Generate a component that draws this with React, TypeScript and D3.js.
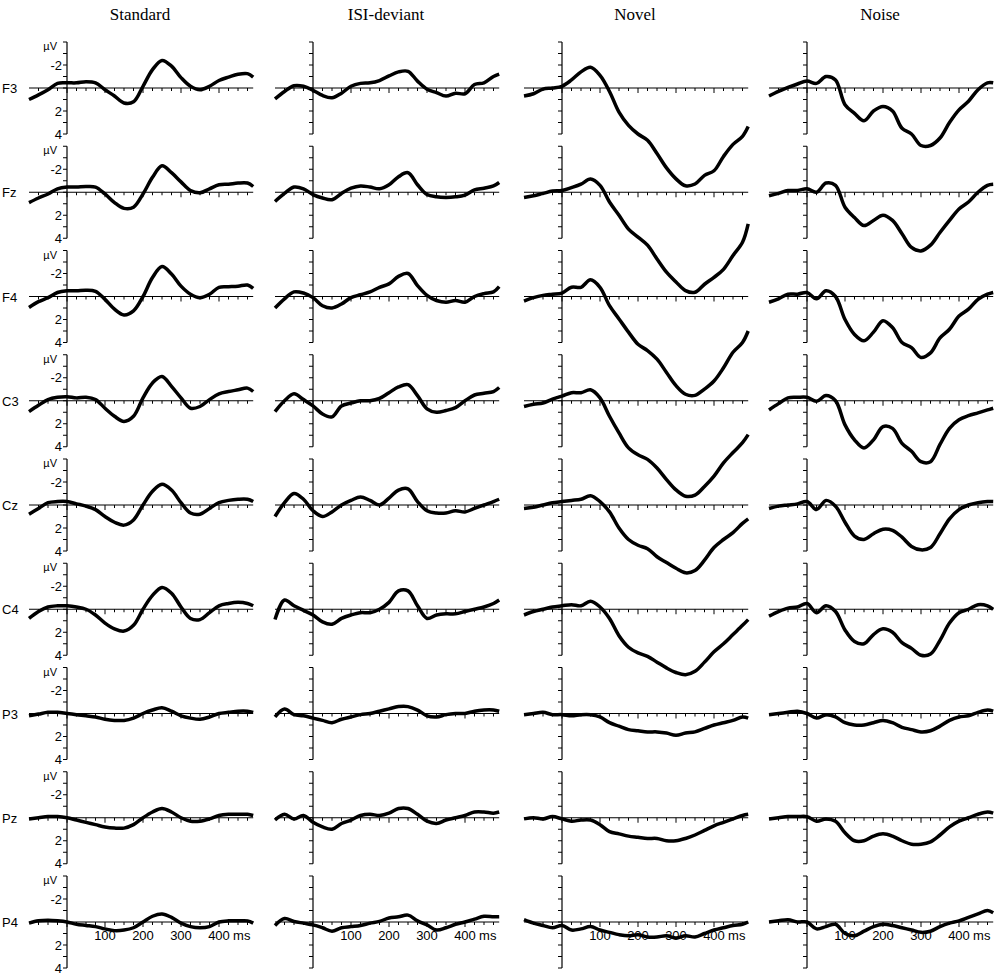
import React from 'react';
import * as d3 from 'd3';

const times = [-100, -75, -50, -25, 0, 25, 50, 75, 100, 125, 150, 175, 200, 225, 250, 275, 300, 325, 350, 375, 400, 425, 450, 475, 490];
const conditions = ['Standard', 'ISI-deviant', 'Novel', 'Noise'];
const electrodes = ['F3', 'Fz', 'F4', 'C3', 'Cz', 'C4', 'P3', 'Pz', 'P4'];
const timeTicks = [100, 200, 300, 400];
const voltTicks = [-2, 2, 4];

// µV, positive plotted downward
const standard = [
  [1.0, 0.6, 0.15, -0.4, -0.45, -0.45, -0.55, -0.45, 0.15, 0.7, 1.3, 1.2, -0.15, -1.6, -2.4, -1.9, -0.9, -0.15, 0.15, -0.15, -0.65, -0.95, -1.2, -1.25, -0.95],
  [0.9, 0.5, 0.15, -0.3, -0.45, -0.45, -0.5, -0.45, 0.15, 0.9, 1.4, 1.3, 0.15, -1.3, -2.3, -1.7, -0.9, -0.15, 0.05, -0.3, -0.65, -0.7, -0.8, -0.8, -0.5],
  [0.95, 0.45, 0.1, -0.35, -0.5, -0.5, -0.55, -0.45, 0.25, 1.1, 1.6, 1.25, 0, -1.65, -2.6, -1.95, -0.9, -0.2, 0.1, -0.2, -0.8, -0.85, -0.9, -1.0, -0.7],
  [0.95, 0.4, -0.1, -0.3, -0.35, -0.25, -0.3, -0.1, 0.65, 1.35, 1.8, 1.35, -0.25, -1.55, -2.1, -1.25, -0.25, 0.65, 0.5, -0.1, -0.6, -0.8, -0.95, -1.1, -0.8],
  [0.8, 0.3, -0.2, -0.3, -0.3, -0.1, 0.1, 0.4, 1.0, 1.5, 1.75, 1.3, 0, -1.2, -1.8, -1.3, -0.2, 0.7, 0.8, 0.3, -0.2, -0.4, -0.5, -0.5, -0.3],
  [0.8, 0.2, -0.2, -0.3, -0.3, -0.2, 0, 0.5, 1.2, 1.7, 1.9, 1.4, 0, -1.2, -1.9, -1.4, -0.2, 0.8, 0.9, 0.3, -0.3, -0.5, -0.6, -0.5, -0.3],
  [0.2, 0.05, -0.1, -0.1, 0, 0.1, 0.2, 0.3, 0.5, 0.6, 0.6, 0.4, 0, -0.3, -0.5, -0.2, 0.2, 0.4, 0.5, 0.3, 0, -0.1, -0.2, -0.2, -0.1],
  [0.1, 0, -0.1, -0.1, 0, 0.2, 0.4, 0.6, 0.8, 0.9, 0.9, 0.6, 0, -0.5, -0.8, -0.5, 0, 0.3, 0.3, 0.1, -0.2, -0.3, -0.3, -0.3, -0.2],
  [0.1, -0.1, -0.15, -0.1, 0, 0.2, 0.3, 0.4, 0.6, 0.75, 0.7, 0.5, 0, -0.5, -0.7, -0.4, 0.1, 0.4, 0.5, 0.4, 0, -0.1, -0.1, -0.1, 0.1],
];
const isiDeviant = [
  [0.95, 0.3, -0.2, -0.15, 0.2, 0.65, 0.85, 0.45, -0.15, -0.4, -0.45, -0.65, -1.05, -1.4, -1.45, -0.6, 0.1, 0.4, 0.7, 0.45, 0.5, -0.3, -0.45, -1.0, -1.2],
  [0.8, 0.1, -0.45, -0.3, 0.2, 0.5, 0.65, 0.1, -0.35, -0.55, -0.45, -0.3, -0.65, -1.35, -1.7, -0.65, 0.2, 0.4, 0.45, 0.4, 0.25, -0.2, -0.35, -0.55, -0.85],
  [1.0, 0.2, -0.4, -0.3, 0.1, 0.8, 1.0, 0.65, 0.1, -0.15, -0.4, -0.8, -1.1, -1.75, -2.0, -0.95, -0.1, 0.35, 0.5, 0.35, 0.5, 0, -0.25, -0.4, -0.85],
  [0.95, 0, -0.6, -0.1, 0.45, 1.15, 1.4, 0.45, 0.2, 0, 0, -0.2, -0.7, -1.2, -1.4, -0.45, 0.7, 1.0, 0.85, 0.6, 0, -0.5, -0.65, -0.8, -1.15],
  [1.0, -0.2, -1.0, -0.5, 0.5, 1.0, 0.6, 0, -0.4, -0.7, -0.4, 0, -0.6, -1.3, -1.4, -0.3, 0.5, 0.7, 0.7, 0.5, 0.6, 0.3, 0, -0.3, -0.5],
  [0.9, -0.8, -0.3, 0.1, 0.5, 1.1, 1.3, 0.8, 0.5, 0.3, 0.3, 0, -0.6, -1.6, -1.6, -0.3, 0.8, 0.5, 0.4, 0.4, 0.2, 0, -0.2, -0.5, -0.8],
  [0.3, -0.4, 0.1, 0.2, 0.4, 0.6, 0.8, 0.5, 0.3, 0.1, 0, -0.2, -0.4, -0.6, -0.6, -0.3, 0.2, 0.3, 0.1, 0, 0, -0.2, -0.3, -0.3, -0.2],
  [0.2, -0.3, 0.1, -0.2, 0.4, 0.8, 1.0, 0.5, 0.2, -0.2, -0.3, -0.2, -0.4, -0.8, -0.8, -0.3, 0.3, 0.5, 0.2, 0, -0.2, -0.5, -0.5, -0.4, -0.5],
  [0.3, -0.3, -0.05, 0.1, 0.25, 0.5, 0.8, 0.5, 0.4, 0.3, 0.1, -0.05, -0.35, -0.45, -0.6, -0.1, 0.25, 0.7, 0.5, 0.2, 0, -0.25, -0.5, -0.45, -0.45],
];
const novel = [
  [0.7, 0.5, 0.1, 0, -0.15, -0.7, -1.4, -1.8, -1.1, 0.3, 2.1, 3.25, 4.0, 4.55, 5.7, 6.95, 7.9, 8.5, 8.35, 7.6, 7.2, 5.95, 4.9, 4.2, 3.35],
  [0.45, 0.3, 0.1, -0.1, -0.15, -0.4, -0.7, -1.15, -0.6, 0.85, 2.0, 3.2, 3.9, 4.6, 5.8, 6.95, 7.8, 8.55, 8.7, 8.0, 7.4, 6.7, 5.5, 4.35, 2.75],
  [0.4, 0.1, -0.1, -0.2, -0.3, -0.8, -0.8, -1.45, -0.8, 0.8, 1.95, 3.1, 4.15, 4.7, 5.45, 6.6, 7.75, 8.5, 8.6, 8.05, 7.35, 6.2, 4.85, 4.0, 3.0],
  [0.5, 0.3, 0.2, -0.15, -0.4, -0.7, -0.7, -0.95, -0.25, 1.35, 2.8, 4.1, 4.7, 5.1, 5.85, 6.85, 7.75, 8.3, 8.2, 7.45, 6.55, 5.4, 4.5, 3.65, 2.95],
  [0.3, 0.2, 0, -0.2, -0.3, -0.4, -0.5, -0.8, -0.3, 0.6, 2.0, 3.0, 3.5, 3.8, 4.5, 5.0, 5.5, 5.9, 5.7, 4.8, 3.7, 3.0, 2.4, 1.6, 1.2],
  [0.5, 0.2, 0, -0.2, -0.3, -0.4, -0.3, -0.7, -0.2, 0.8, 2.3, 3.3, 3.8, 4.1, 4.6, 5.1, 5.5, 5.7, 5.4, 4.6, 3.7, 3.0, 2.2, 1.4, 0.9],
  [0.1, 0, -0.1, 0.1, 0.1, 0.2, 0.1, 0.1, 0.3, 0.8, 1.1, 1.4, 1.5, 1.6, 1.6, 1.7, 1.9, 1.7, 1.6, 1.3, 1.0, 0.8, 0.6, 0.3, 0.4],
  [0.1, 0, 0.1, -0.1, 0.1, 0.3, 0.2, 0.2, 0.6, 1.2, 1.4, 1.6, 1.7, 1.8, 1.8, 2.0, 2.0, 1.8, 1.5, 1.1, 0.7, 0.4, 0.1, -0.2, -0.3],
  [-0.2, 0.1, 0.3, 0.5, 0.3, 0.7, 0.6, 0.4, 0.7, 0.9, 1.1, 1.2, 1.1, 1.3, 1.3, 1.2, 1.4, 1.2, 1.3, 1.0, 0.7, 0.5, 0.3, 0.2, 0],
];
const noise = [
  [0.7, 0.3, -0.05, -0.35, -0.6, -0.4, -1.0, -0.7, 1.45, 2.2, 2.85, 2.0, 1.6, 2.0, 3.5, 4.0, 5.0, 5.0, 4.35, 3.0, 1.9, 1.15, 0.15, -0.45, -0.45],
  [0.3, 0.1, -0.15, -0.15, -0.3, 0, -0.8, -0.6, 1.3, 2.2, 2.9, 2.45, 2.0, 2.45, 3.6, 4.8, 5.1, 4.6, 3.5, 2.45, 1.45, 0.85, 0, -0.6, -0.7],
  [0.5, 0.2, -0.2, -0.2, -0.35, 0.2, -0.5, 0, 2.0, 3.3, 3.85, 3.1, 2.1, 2.7, 4.0, 4.45, 5.3, 4.9, 3.6, 2.85, 1.7, 1.1, 0.25, -0.2, -0.35],
  [0.8, 0.25, -0.25, -0.3, -0.3, 0.05, -0.45, 0, 2.1, 3.4, 4.1, 3.4, 2.25, 2.4, 3.7, 4.4, 5.3, 5.3, 3.8, 2.4, 1.65, 1.3, 1.05, 0.8, 0.65],
  [0.3, 0.1, 0, -0.1, -0.3, 0.4, -0.4, 0.1, 1.5, 2.7, 3.0, 2.5, 2.1, 2.2, 2.8, 3.6, 3.9, 3.7, 2.5, 1.2, 0.4, 0, -0.2, -0.3, -0.3],
  [0.6, 0.2, -0.1, -0.2, -0.5, 0.3, -0.3, 0.2, 1.8, 2.8, 3.0, 2.2, 1.7, 2.0, 2.9, 3.4, 4.0, 3.9, 2.7, 1.2, 0.3, 0, -0.4, -0.3, 0],
  [0.1, 0, -0.1, -0.2, 0, 0.4, 0.1, 0.3, 0.8, 1.0, 1.0, 0.8, 0.6, 0.8, 1.2, 1.4, 1.6, 1.5, 1.1, 0.6, 0.3, 0.2, -0.1, -0.3, -0.2],
  [0.1, 0, -0.1, -0.1, -0.1, 0.3, 0.1, 0.3, 1.3, 2.0, 2.0, 1.6, 1.4, 1.6, 2.0, 2.3, 2.3, 2.1, 1.5, 0.8, 0.3, 0, -0.3, -0.5, -0.4],
  [0, -0.1, -0.2, 0, 0, 0.6, 0.4, 0.2, 1.0, 1.2, 0.8, 0.4, 0.2, 0.3, 0.5, 0.7, 0.9, 0.8, 0.4, 0.1, -0.1, -0.4, -0.7, -1.0, -0.8],
];
const series = [standard, isiDeviant, novel, noise];

const colAxisX = [67, 313, 562, 807];
const rowZeroY0 = 88;
const rowPitch = 104.25;
const sans = 'Arial, "Liberation Sans", sans-serif';

export default function App() {
  const minorTicks = d3.range(-75, 491, 25);
  const voltMinor = d3.range(-4, 5, 1);
  return (
    <svg width={994} height={979} style={{ position: 'absolute', left: 0, top: 0, background: '#fff' }}>
      {conditions.map((c, ci) => (
        <text key={c} x={colAxisX[ci] + 73} y={20} textAnchor="middle" fontFamily='"Liberation Serif", "Times New Roman", serif' fontSize={17}>
          {c}
        </text>
      ))}
      {conditions.map((c, ci) =>
        electrodes.map((e, ri) => {
          const y0 = rowZeroY0 + ri * rowPitch;
          const x = d3.scaleLinear().domain([0, 100]).range([colAxisX[ci], colAxisX[ci] + 38]);
          const y = d3.scaleLinear().domain([0, 2]).range([y0, y0 + 23]);
          const line = d3
            .line<number>()
            .x((_, i) => x(times[i]))
            .y((v) => y(v))
            .curve(d3.curveCatmullRom.alpha(0.5));
          const first = ci === 0;
          const last = ri === electrodes.length - 1;
          return (
            <g key={c + e}>
              {/* voltage axis */}
              <line x1={x(0)} x2={x(0)} y1={y(-4)} y2={y(4)} stroke="#000" strokeWidth={1.2} />
              {voltMinor.map((v) => (
                <line key={v} x1={x(0) - 4} x2={x(0)} y1={y(v)} y2={y(v)} stroke="#000" strokeWidth={1} />
              ))}
              {first &&
                voltTicks.map((v) => (
                  <text key={v} x={x(0) - 5} y={y(v) + 4.5} textAnchor="end" fontFamily={sans} fontSize={13}>
                    {v}
                  </text>
                ))}
              {first && (
                <text x={x(0) - 10} y={y(-3.3)} textAnchor="end" fontFamily={sans} fontSize={11}>
                  µV
                </text>
              )}
              {/* time axis */}
              <line x1={x(-100)} x2={x(490)} y1={y0} y2={y0} stroke="#000" strokeWidth={1.2} />
              {minorTicks.map((t) => (
                <line key={t} x1={x(t)} x2={x(t)} y1={y0} y2={y0 + (t % 100 === 0 ? 5 : 3)} stroke="#000" strokeWidth={1} />
              ))}
              {last &&
                timeTicks.map((t) => (
                  <text key={t} x={x(t)} y={y0 + 18} textAnchor="middle" fontFamily={sans} fontSize={13}>
                    {t}
                  </text>
                ))}
              {last && (
                <text x={x(437)} y={y0 + 18} fontFamily={sans} fontSize={13}>
                  ms
                </text>
              )}
              {first && (
                <text x={2} y={y0 + 5} fontFamily={sans} fontSize={13}>
                  {e}
                </text>
              )}
              <path d={line(series[ci][ri]) as string} fill="none" stroke="#000" strokeWidth={3.5} strokeLinejoin="round" />
            </g>
          );
        })
      )}
    </svg>
  );
}
